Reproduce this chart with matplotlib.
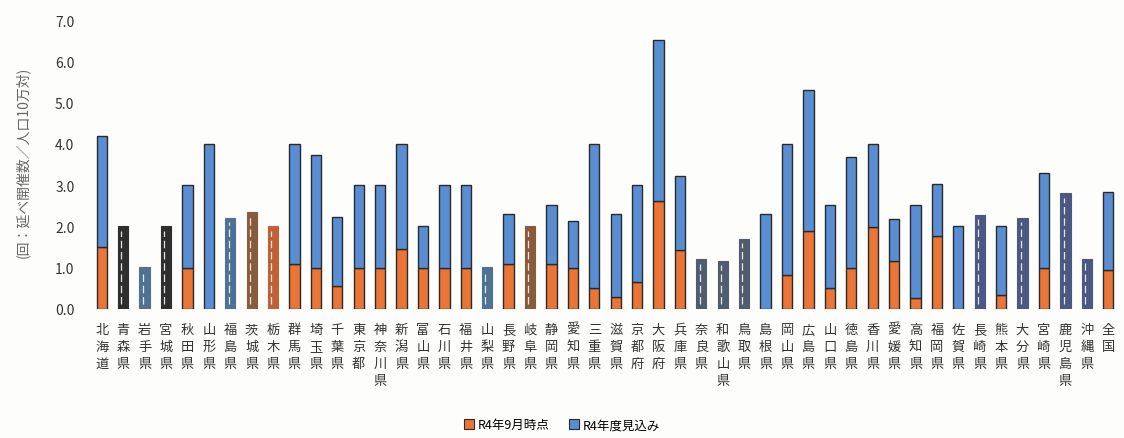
import matplotlib
matplotlib.use("Agg")
import matplotlib.pyplot as plt
from matplotlib.patches import Patch

plt.rcParams["font.family"] = ["Noto Sans CJK JP", "DejaVu Sans"]

prefectures = [
    "北海道", "青森県", "岩手県", "宮城県", "秋田県", "山形県", "福島県", "茨城県",
    "栃木県", "群馬県", "埼玉県", "千葉県", "東京都", "神奈川県", "新潟県", "富山県",
    "石川県", "福井県", "山梨県", "長野県", "岐阜県", "静岡県", "愛知県", "三重県",
    "滋賀県", "京都府", "大阪府", "兵庫県", "奈良県", "和歌山県", "鳥取県", "島根県",
    "岡山県", "広島県", "山口県", "徳島県", "香川県", "愛媛県", "高知県", "福岡県",
    "佐賀県", "長崎県", "熊本県", "大分県", "宮崎県", "鹿児島県", "沖縄県", "全国",
]

# R4年9月時点 (None = no breakdown reported)
sept_values = [
    1.5, None, None, None, 1.0, 0.0, None, None,
    None, 1.1, 1.0, 0.55, 1.0, 1.0, 1.45, 1.0,
    1.0, 1.0, None, 1.1, None, 1.1, 1.0, 0.5,
    0.28, 0.65, 2.62, 1.42, None, None, None, 0.0,
    0.82, 1.9, 0.5, 1.0, 1.98, 1.15, 0.27, 1.77,
    0.0, None, 0.33, None, 1.0, None, None, 0.95,
]

# R4年度見込み (total)
total_values = [
    4.2, 2.0, 1.02, 2.0, 3.0, 4.0, 2.2, 2.36,
    2.0, 4.0, 3.72, 2.22, 3.0, 3.0, 4.0, 2.0,
    3.0, 3.0, 1.02, 2.3, 2.0, 2.53, 2.12, 4.0,
    2.3, 3.0, 6.52, 3.22, 1.2, 1.16, 1.7, 2.3,
    4.0, 5.3, 2.53, 3.68, 4.0, 2.18, 2.53, 3.02,
    2.0, 2.28, 2.0, 2.2, 3.3, 2.8, 1.22, 2.83,
]

# fill colours for prefectures drawn as a single undivided bar
single_colors = {
    "青森県": "#2e2e2e", "宮城県": "#2e2e2e",
    "岩手県": "#4d7294", "福島県": "#4d7294", "山梨県": "#4d7294",
    "茨城県": "#8a5a3c", "岐阜県": "#8a5a3c",
    "栃木県": "#bf6035",
    "奈良県": "#4f5d6e", "和歌山県": "#4f5d6e", "鳥取県": "#4f5d6e",
    "長崎県": "#4a5883", "大分県": "#4a5883", "鹿児島県": "#4a5883",
    "沖縄県": "#4a5883",
}

orange = "#EA7537"
blue = "#5A8ED3"
edge = "#2a2a2a"
width = 0.48

fig = plt.figure(figsize=(11.24, 4.39), dpi=100)
fig.patch.set_facecolor("#fdfdfb")
ax = fig.add_axes([0.081, 0.294, 0.9145, 0.658])
ax.set_facecolor("#fdfdfb")

for i, name in enumerate(prefectures):
    total = total_values[i]
    sept = sept_values[i]
    if sept is None:
        c = single_colors[name]
        ax.bar(i, total, width=width, color=c, edgecolor=c, linewidth=0.8)
        ax.vlines(i - 0.08, 0.12, total - 0.1, colors="white",
                  linestyles=(0, (6, 3)), linewidth=0.9, alpha=0.85)
    else:
        ax.bar(i, sept, width=width, color=orange, edgecolor=edge, linewidth=1.0)
        ax.bar(i, total - sept, bottom=sept, width=width, color=blue,
               edgecolor=edge, linewidth=1.0)

ax.set_xlim(-0.5, len(prefectures) - 0.5)
ax.set_ylim(0, 7.0)
ax.set_yticks([0, 1, 2, 3, 4, 5, 6, 7])
ax.set_yticklabels([f"{v:.1f}" for v in range(8)], fontsize=10, color="#333333")
ax.set_xticks(range(len(prefectures)))
ax.set_xticklabels(["\n".join(n) for n in prefectures], fontsize=9.5,
                   linespacing=1.4, color="#333333", va="top")
ax.tick_params(axis="both", length=0)
ax.tick_params(axis="y", pad=12)
ax.tick_params(axis="x", pad=10)
for s in ax.spines.values():
    s.set_visible(False)

fig.text(0.02, 0.63, "(回：延べ開催数／人口10万対)", rotation=90,
         ha="center", va="center", fontsize=10, color="#666666")

handles = [Patch(facecolor=orange, edgecolor=edge, linewidth=0.8, label="R4年9月時点"),
           Patch(facecolor=blue, edgecolor=edge, linewidth=0.8, label="R4年度見込み")]
fig.legend(handles=handles, loc="center", bbox_to_anchor=(0.5, 0.03), ncol=2,
           frameon=False, fontsize=9, handlelength=0.8, handleheight=0.8,
           handletextpad=0.3, columnspacing=1.5)

fig.savefig("out.png", dpi=100, facecolor=fig.get_facecolor())
